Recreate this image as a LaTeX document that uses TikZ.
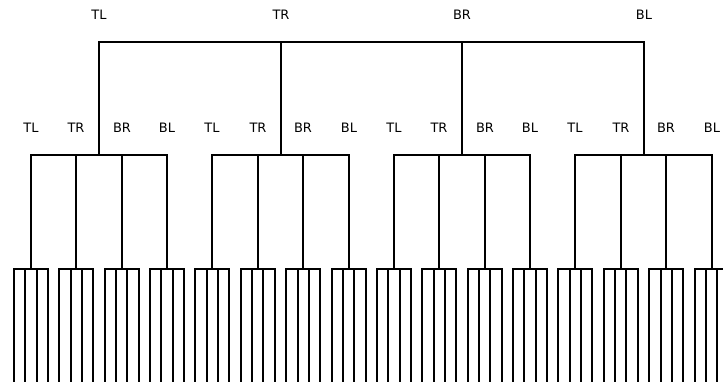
\documentclass[tikz,border=0pt]{standalone}
\usepackage{fontspec}
\setmainfont{DejaVu Sans}
\tikzset{
  link/.style={draw=black, line width=2.9pt, line join=miter, line cap=butt},
  lab/.style={font=\fontsize{13}{15}\selectfont, inner sep=0pt, anchor=center}
}
\begin{document}
\begin{tikzpicture}[x=1bp,y=-1bp]
\useasboundingbox (0,0) rectangle (723,387);
\def\xa{99}
\def\da{181.5}
\def\db{45.375}
\def\dc{11.344}
\coordinate (root) at ({round(\xa+1.5*\da)},42);
\foreach \i/\t in {0/TL,1/TR,2/BR,3/BL}{
  \pgfmathsetmacro\xi{round(\xa+\i*\da)}
  \coordinate (n\i) at (\xi,155);
  \node[lab] (t\i) at (\xi,15) {\t};
  \draw[link] (root) -| (n\i);
  \foreach \j/\s in {0/TL,1/TR,2/BR,3/BL}{
    \pgfmathsetmacro\xj{round(\xa+\i*\da+(\j-1.5)*\db)}
    \coordinate (n\i\j) at (\xj,269);
    \node[lab] (t\i\j) at (\xj,128) {\s};
    \draw[link] (n\i) -| (n\i\j);
    \foreach \k in {0,1,2,3}{
      \pgfmathsetmacro\xk{round(\xa+\i*\da+(\j-1.5)*\db+(\k-1.5)*\dc)}
      \coordinate (n\i\j\k) at (\xk,382);
      \draw[link] (n\i\j) -| (n\i\j\k);
    }
  }
}
\end{tikzpicture}
\end{document}
